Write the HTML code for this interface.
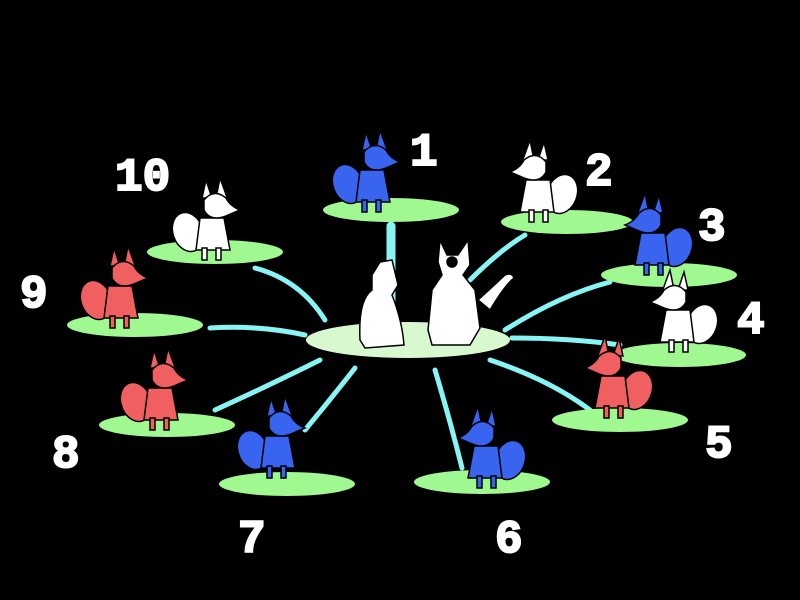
<!DOCTYPE html>
<html><head><style>
html,body{margin:0;padding:0;background:#000;width:800px;height:600px;overflow:hidden}
.n{font-family:"Liberation Mono",monospace;font-weight:bold;fill:#fff;stroke:#fff;stroke-width:2;font-size:46px}
</style></head><body>
<svg width="800" height="600" viewBox="0 0 800 600" xmlns="http://www.w3.org/2000/svg">
<defs>
<g id="fox" stroke="#000" stroke-width="1.5">
  <ellipse cx="-22" cy="-28" rx="15" ry="20" transform="rotate(-20 -22 -28)"/>
  <path d="M-10,-42 L14,-42 L20,-10 L-14,-10 Z"/>
  <rect x="-8" y="-12" width="5" height="12"/>
  <rect x="6" y="-12" width="5" height="12"/>
  <path d="M-4,-80 L2,-62 L-8,-62 Z"/>
  <path d="M10,-82 L18,-60 L6,-62 Z"/>
  <path d="M-6,-60 Q4,-72 16,-62 Q20,-54 30,-50 L16,-44 Q0,-38 -6,-50 Z"/>
</g>
</defs>
<rect width="800" height="600" fill="#000"/>
<g stroke="#88f4f4" stroke-width="5" stroke-linecap="round" fill="none">
  <line x1="391" y1="226" x2="391" y2="312" stroke-width="9"/>
  <path d="M470,280 Q500,250 525,235"/>
  <path d="M505,330 Q560,295 610,282"/>
  <path d="M512,338 Q570,338 620,345"/>
  <path d="M490,360 Q550,380 590,410"/>
  <path d="M435,370 Q450,420 462,468"/>
  <path d="M355,368 Q330,400 305,430"/>
  <path d="M320,360 Q270,385 215,410"/>
  <path d="M305,335 Q260,325 210,328"/>
  <path d="M325,320 Q300,280 255,268"/>
</g>
<g fill="#a0f890">
  <ellipse cx="391" cy="210" rx="68" ry="12"/>
  <ellipse cx="567" cy="222" rx="66" ry="12"/>
  <ellipse cx="669" cy="275" rx="68" ry="12"/>
  <ellipse cx="680" cy="355" rx="66" ry="12"/>
  <ellipse cx="620" cy="420" rx="68" ry="12"/>
  <ellipse cx="482" cy="482" rx="68" ry="12"/>
  <ellipse cx="287" cy="484" rx="68" ry="12"/>
  <ellipse cx="167" cy="425" rx="68" ry="12"/>
  <ellipse cx="135" cy="325" rx="68" ry="12"/>
  <ellipse cx="215" cy="252" rx="68" ry="12"/>
</g>
<ellipse cx="408" cy="340" rx="102" ry="18" fill="#d8f8d0"/>
<use href="#fox" x="370" y="212" fill="#3864f0"/>
<use href="#fox" transform="translate(540,222) scale(-1,1)" fill="#fff"/>
<use href="#fox" transform="translate(655,275) scale(-1,1)" fill="#3864f0"/>
<use href="#fox" transform="translate(680,352) scale(-1,1)" fill="#fff"/>
<use href="#fox" transform="translate(615,418) scale(-1,1)" fill="#f06060"/>
<use href="#fox" transform="translate(488,488) scale(-1,1)" fill="#3864f0"/>
<use href="#fox" x="275" y="478" fill="#3864f0"/>
<use href="#fox" x="158" y="430" fill="#f06060"/>
<use href="#fox" x="118" y="328" fill="#f06060"/>
<use href="#fox" x="210" y="260" fill="#fff"/>
<g fill="#fff" stroke="#000" stroke-width="1.5">
  <path d="M360,340 Q358,300 372,290 L372,275 L380,262 L392,260 L398,285 L392,295 Q402,320 404,345 L365,348 Z"/>
  <path d="M440,240 L447,255 L458,255 L468,240 L470,265 L463,275 L475,290 L480,328 L470,345 L432,345 L428,330 L432,290 L442,275 L438,262 Z"/>
  <path d="M478,300 Q500,280 505,275 Q512,272 514,278 Q505,285 490,310 Z"/>
  <circle cx="452" cy="262" r="5" fill="#000"/>
</g>
<text class="n" x="410" y="165">1</text>
<text class="n" x="585" y="185">2</text>
<text class="n" x="698" y="240">3</text>
<text class="n" x="737" y="333">4</text>
<text class="n" x="705" y="457">5</text>
<text class="n" x="495" y="552">6</text>
<text class="n" x="238" y="552">7</text>
<text class="n" x="52" y="467">8</text>
<text class="n" x="20" y="307">9</text>
<text class="n" x="115" y="190">10</text>
</svg>
</body></html>
